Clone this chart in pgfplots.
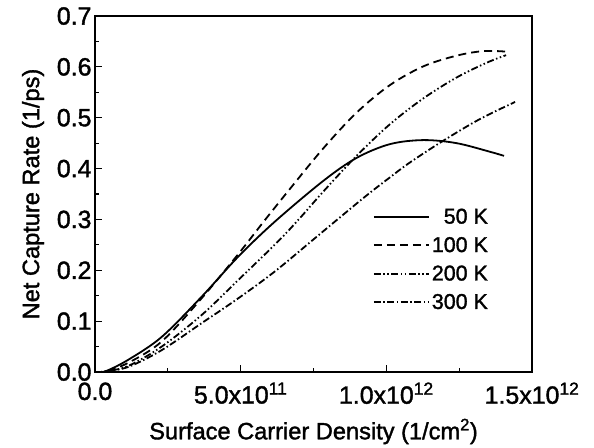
\documentclass[border=0pt]{standalone}
\usepackage{fontspec}
\setmainfont[FakeBold=1.5]{Liberation Sans}
\usepackage{pgfplots}
\pgfplotsset{compat=1.18}
\begin{document}
\begin{tikzpicture}
\begin{axis}[
  scale only axis, width=437bp, height=356bp,
  xmin=0, xmax=1.5e12, ymin=0, ymax=0.7,
  axis line style={line width=1.6bp},
  tick align=inside, tick pos=left,
  major tick length=7bp, minor tick length=4bp,
  every tick/.style={black, line width=1.2bp},
  scaled x ticks=false,
  xtick={0,0.5e12,1e12,1.5e12},
  xticklabels={0.0, 5.0x10\textsuperscript{11}, 1.0x10\textsuperscript{12}, 1.5x10\textsuperscript{12}},
  minor x tick num=1,
  ytick={0,0.1,0.2,0.3,0.4,0.5,0.6,0.7},
  minor y tick num=1,
  /pgf/number format/assume math mode=true,
  yticklabel style={/pgf/number format/.cd, fixed, fixed zerofill, precision=1},
  xticklabel style={yshift=-7bp},
  tick label style={font=\fontsize{25}{28}\selectfont},
  label style={font=\fontsize{23.7}{27}\selectfont},
  xlabel={Surface Carrier Density (1/cm\textsuperscript{2})},
  xlabel style={yshift=-8bp},
  ylabel={Net Capture Rate (1/ps)},
  ylabel style={yshift=6bp},
  legend cell align=right,
  legend style={draw=none, fill=none, at={(0.904,0.465)}, anchor=north east,
    font=\fontsize{21.5}{24}\selectfont, inner sep=0pt, row sep=8bp},
  legend image code/.code={\draw[#1] (0bp,0bp) -- (55bp,0bp);},
  every axis plot/.append style={black, line width=1.8bp, smooth, tension=0.55, no marks},
]
\addplot[solid] coordinates {
 (0,0) (0.034e12,0.001) (0.114e12,0.024) (0.229e12,0.069) (0.366e12,0.148)
 (0.492e12,0.227) (0.618e12,0.296) (0.784e12,0.376) (0.898e12,0.421)
 (1.012e12,0.448) (1.127e12,0.456) (1.241e12,0.450) (1.356e12,0.433) (1.404e12,0.425)};
\addlegendentry{50 K}
\addplot[dash pattern=on 8bp off 5bp] coordinates {
 (0,0) (0.034e12,0.001) (0.114e12,0.018) (0.229e12,0.060) (0.366e12,0.145)
 (0.492e12,0.232) (0.578e12,0.295) (0.669e12,0.360) (0.784e12,0.440)
 (0.898e12,0.510) (1.012e12,0.564) (1.127e12,0.601) (1.241e12,0.622)
 (1.333e12,0.631) (1.411e12,0.630)};
\addlegendentry{100 K}
\addplot[dash pattern=on 7bp off 2.5bp on 1.5bp off 2.5bp on 1.5bp off 2.5bp] coordinates {
 (0,0) (0.034e12,0.001) (0.114e12,0.012) (0.229e12,0.050) (0.366e12,0.112)
 (0.492e12,0.181) (0.627e12,0.256) (0.704e12,0.303) (0.784e12,0.355)
 (0.898e12,0.425) (1.012e12,0.487) (1.127e12,0.538) (1.241e12,0.579)
 (1.344e12,0.608) (1.411e12,0.623)};
\addlegendentry{200 K}
\addplot[dash pattern=on 7bp off 2.5bp on 1.5bp off 2.5bp] coordinates {
 (0,0) (0.034e12,0.001) (0.114e12,0.010) (0.229e12,0.043) (0.366e12,0.096)
 (0.492e12,0.145) (0.618e12,0.198) (0.761e12,0.266) (0.921e12,0.342)
 (1.013e12,0.383) (1.081e12,0.412) (1.196e12,0.455) (1.320e12,0.497) (1.442e12,0.531)};
\addlegendentry{300 K}
\end{axis}
\pgfresetboundingbox
\path (current axis.south west) ++(-95bp,-76bp) rectangle ++(594bp,448bp);
\end{tikzpicture}
\end{document}
